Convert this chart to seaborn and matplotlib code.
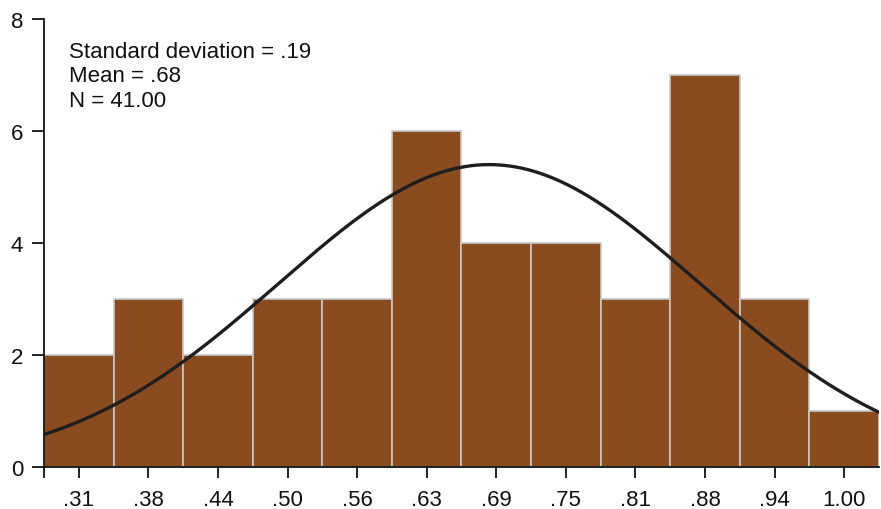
import numpy as np
import pandas as pd
import matplotlib
matplotlib.use("Agg")
import matplotlib.pyplot as plt
import seaborn as sns

# Data
tick_labels = [".31", ".38", ".44", ".50", ".56", ".63", ".69", ".75", ".81", ".88", ".94", "1.00"]
counts = [2, 3, 2, 3, 3, 6, 4, 4, 3, 7, 3, 1]
first_center = 0.31
last_center = 1.00
stat_sd = 0.19
stat_mean = 0.68
stat_n = 41

sns.set_theme(style="ticks")
plt.rcParams['font.family'] = ['Liberation Sans', 'DejaVu Sans']

n_bins = len(counts)
width = (last_center - first_center) / (n_bins - 1)
centers = first_center + width * np.arange(n_bins)
edges = [float(c - width / 2) for c in centers] + [float(centers[-1] + width / 2)]

df = pd.DataFrame({"value": centers, "count": counts})

fig = plt.figure(figsize=(8.81, 5.10), dpi=100)
ax = fig.add_axes([44 / 881, 42 / 510, 835 / 881, 448 / 510])

sns.histplot(data=df, x="value", weights="count", bins=edges, ax=ax,
             color="#8A4B1E", edgecolor="#C8C8C8", linewidth=1.2, alpha=1.0)

# Fitted normal curve from displayed statistics
xs = np.linspace(edges[0], edges[-1], 300)
ys = stat_n * width / (stat_sd * np.sqrt(2 * np.pi)) * np.exp(-0.5 * ((xs - stat_mean) / stat_sd) ** 2)
sns.lineplot(x=xs, y=ys, ax=ax, color="#1e1e1e", linewidth=2.4)

ax.set_xlim(edges[0], edges[-1])
ax.set_ylim(0, 8)
ax.set_yticks([0, 2, 4, 6, 8])
ax.set_yticklabels(["0", "2", "4", "6", "8"])
ax.set_xticks(list(centers) + [edges[0]])
ax.set_xticklabels(tick_labels + [""])
ax.set_xlabel("")
ax.set_ylabel("")
for s in ["top", "right"]:
    ax.spines[s].set_visible(False)
for s in ["left", "bottom"]:
    ax.spines[s].set_color("#111111")
    ax.spines[s].set_linewidth(1.3)
ax.tick_params(axis="y", length=9, width=1.3, color="#111111", labelsize=16, pad=6, labelcolor="#111111")
ax.tick_params(axis="x", length=8, width=1.3, color="#111111", labelsize=16, pad=8, labelcolor="#111111")

ax.text(25 / 835, 0.951, "Standard deviation = .19\nMean = .68\nN = 41.00",
        transform=ax.transAxes, ha="left", va="top", fontsize=16,
        color="#111111", linespacing=1.22)

fig.savefig("out.png", dpi=100)
